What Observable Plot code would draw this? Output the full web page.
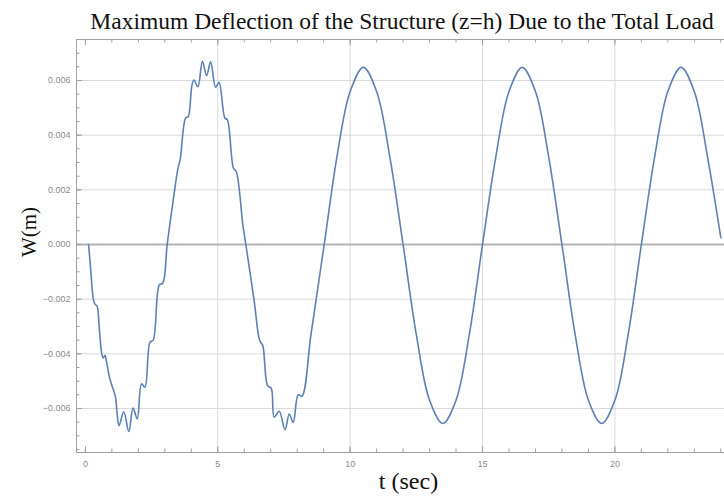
<!DOCTYPE html>
<html>
<head>
<meta charset="utf-8">
<script src="https://cdn.jsdelivr.net/npm/d3@7"></script>
<script src="https://cdn.jsdelivr.net/npm/@observablehq/plot@0.6"></script>
<style>
  html, body { margin: 0; padding: 0; background: #fff; }
</style>
</head>
<body>
<div id="chart"></div>
<script>
// ---- Data ----
const tValues = [
  0.12, 0.20, 0.30, 0.36, 0.44, 0.52, 0.62, 0.68, 0.74, 0.80, 0.92, 1.05, 1.14, 1.20,
  1.27, 1.45, 1.64, 1.80, 1.96, 2.12, 2.25, 2.44, 2.56, 2.79, 2.92, 3.09, 3.30, 3.50,
  3.58, 3.79, 3.88, 4.02, 4.10, 4.25, 4.42, 4.58, 4.73, 4.92, 5.05, 5.27, 5.36, 5.59,
  5.70, 5.95, 6.06, 6.38, 6.58, 6.70, 6.88, 7.02, 7.13, 7.32, 7.54, 7.70, 7.85, 8.04,
  8.18, 8.52, 9.02, 9.5, 10.0, 10.5, 11.0, 11.5, 12.0, 12.5, 13.0, 13.5, 14.0, 14.5,
  15.0, 15.5, 16.0, 16.5, 17.0, 17.5, 18.0, 18.5, 19.0, 19.5, 20.0, 20.5, 21.0, 21.5,
  22.0, 22.5, 23.0, 23.5, 24.0
];
const wValues = [
  0.0000, -0.0009, -0.0020, -0.00218, -0.00225, -0.0030, -0.0040, -0.00415, -0.00405, -0.0043, -0.0049, -0.0053, -0.0056, -0.0062,
  -0.00663, -0.00612, -0.00684, -0.00598, -0.00638, -0.0051, -0.00522, -0.00357, -0.0035, -0.00148, -0.00142, 0.0000, 0.0015, 0.0028,
  0.0031, 0.00464, 0.00467, 0.0058, 0.00602, 0.00577, 0.0067, 0.00618, 0.00668, 0.00575, 0.00593, 0.00462, 0.00457, 0.0028,
  0.00266, 0.0007, 0.0000, -0.0021, -0.0035, -0.0037, -0.00516, -0.00526, -0.00632, -0.0061, -0.00678, -0.0062, -0.00651, -0.00549,
  -0.00555, -0.0033, 0.0000, 0.0032, 0.0056, 0.00648, 0.0056, 0.0032, 0.0000, -0.0033, -0.0057, -0.00655, -0.0057, -0.0033,
  0.0000, 0.0032, 0.0056, 0.00648, 0.0056, 0.0032, 0.0000, -0.0033, -0.0057, -0.00655, -0.0057, -0.0033, 0.0000, 0.0032,
  0.0056, 0.00648, 0.0056, 0.0032, 0.00025
];
const xMajorTicks = [0, 5, 10, 15, 20];
const xMinorTicks = d3.range(0, 25, 1);
const xGridTicks = [5, 10, 15, 20];
const yMajorTicks = [-0.006, -0.004, -0.002, 0, 0.002, 0.004, 0.006];
const yMinorTicks = d3.range(-15, 16).map(i => i * 0.0005);
const yGridTicks = [-0.006, -0.004, -0.002, 0.002, 0.004, 0.006];
const titleText = "Maximum Deflection of the Structure (z=h) Due to the Total Load";
const xLabel = "t (sec)";
const yLabel = "W(m)";

const series = tValues.map((t, i) => ({t, w: wValues[i]}));

// ---- Layout ----
const W = 724, H = 502;
const mL = 76, mR = 0, mT = 39, mB = 50;
const xDom = [-0.336, 24.14];
const yDom = [-0.00761, 0.0075];
const kx = (xDom[1] - xDom[0]) / (W - mL - mR);   // data units per px
const ky = (yDom[1] - yDom[0]) / (H - mT - mB);
const majorLen = 6, minorLen = 3.5;
const frameColor = "#a0a0a0";
const serif = "Liberation Serif, Times New Roman, serif";

const chart = Plot.plot({
  width: W,
  height: H,
  marginLeft: mL,
  marginRight: mR,
  marginTop: mT,
  marginBottom: mB,
  x: {domain: xDom, axis: null},
  y: {domain: yDom, axis: null},
  style: {fontFamily: "Liberation Sans, Arial, sans-serif", background: "#fff", overflow: "visible"},
  marks: [
    Plot.gridY(yGridTicks, {stroke: "#d9d9d9", strokeOpacity: 1, strokeWidth: 1}),
    Plot.gridX(xGridTicks, {stroke: "#d9d9d9", strokeOpacity: 1, strokeWidth: 1}),
    Plot.ruleY([0], {stroke: "#b4b4b4", strokeWidth: 2}),
    // frame lines
    Plot.ruleX([xDom[0]], {stroke: frameColor, strokeWidth: 1}),
    Plot.ruleY([yDom[0], yDom[1]], {stroke: frameColor, strokeWidth: 1}),
    // left ticks (inward)
    Plot.ruleY(yMinorTicks, {y: d => d, x1: xDom[0], x2: xDom[0] + minorLen * kx, stroke: frameColor}),
    Plot.ruleY(yMajorTicks, {y: d => d, x1: xDom[0], x2: xDom[0] + majorLen * kx, stroke: frameColor}),
    // bottom ticks (inward)
    Plot.ruleX(xMinorTicks, {x: d => d, y1: yDom[0], y2: yDom[0] + minorLen * ky, stroke: frameColor}),
    Plot.ruleX(xMajorTicks, {x: d => d, y1: yDom[0], y2: yDom[0] + majorLen * ky, stroke: frameColor}),
    // top ticks (inward)
    Plot.ruleX(xMinorTicks, {x: d => d, y1: yDom[1], y2: yDom[1] - minorLen * ky, stroke: frameColor}),
    Plot.ruleX(xMajorTicks, {x: d => d, y1: yDom[1], y2: yDom[1] - majorLen * ky, stroke: frameColor}),
    // tick labels
    Plot.axisY({ticks: yMajorTicks, anchor: "left", tickSize: 0, tickPadding: 6, label: null,
      tickFormat: d3.format(".3f"), fontSize: 9, color: "#8a8a8a"}),
    Plot.axisX({ticks: xMajorTicks, anchor: "bottom", tickSize: 0, tickPadding: 8, label: null,
      tickFormat: d3.format("d"), fontSize: 9, color: "#8a8a8a"}),
    // data
    Plot.line(series, {x: "t", y: "w", stroke: "#5e81b5", strokeWidth: 1.6, curve: "catmull-rom"}),
    // titles
    Plot.text([titleText], {frameAnchor: "top", dx: 1.5, dy: -27, fontSize: 23.5,
      fontFamily: serif, fill: "#111", textAnchor: "middle"}),
    Plot.text([yLabel], {frameAnchor: "left", rotate: -90, dx: -47, dy: -14, fontSize: 21,
      fontFamily: serif, fill: "#111", textAnchor: "middle"}),
    Plot.text([xLabel], {frameAnchor: "bottom", dx: 8, dy: 36, fontSize: 24,
      fontFamily: serif, fill: "#111", textAnchor: "middle"})
  ]
});
document.getElementById("chart").appendChild(chart);
</script>
</body>
</html>
